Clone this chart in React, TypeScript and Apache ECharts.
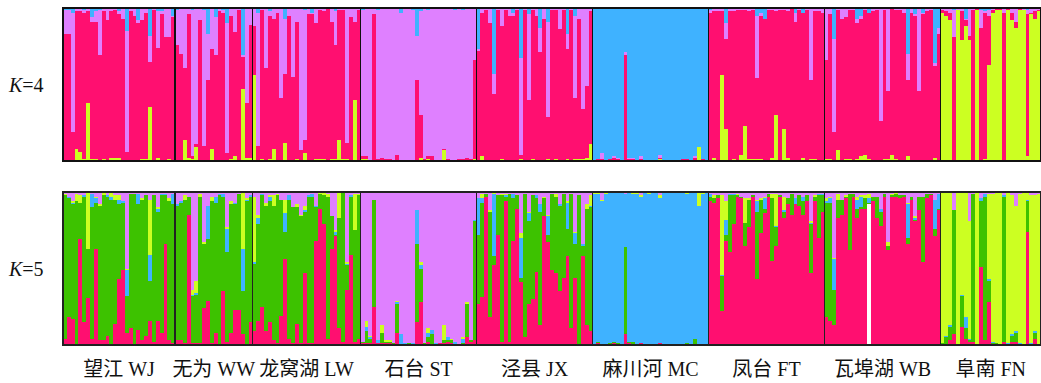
import React, { useEffect, useRef } from "react";
import * as echarts from "echarts";

// Population labels (left to right)
const POPULATIONS = ["望江 WJ", "无为 WW", "龙窝湖 LW", "石台 ST", "泾县 JX", "麻川河 MC", "凤台 FT", "瓦埠湖 WB", "阜南 FN"];

// K=4 cluster names (stacked bottom -> top) and colours
const K4_CLUSTERS = ["Cluster 1", "Cluster 2", "Cluster 3", "Cluster 4"];
const K4_COLORS = ["#CCFF22", "#FF0F70", "#DF80FF", "#3FB2FF"];
// K=5 cluster names (stacked bottom -> top), plus a missing-data column
const K5_CLUSTERS = ["Cluster A", "Cluster B", "Cluster C", "Cluster D", "Cluster E", "Missing"];
const K5_COLORS = ["#FF0F70", "#3DC200", "#3FB2FF", "#CCFF22", "#DF80FF", "#FFFFFF"];

// K=4 membership (%) per individual: [yellow, pink, violet, blue]
const k4WJ = [[0,83,16,1],[0,83,16,1],[0,19,78,3],[8,90,2,0],[6,92,2,0],[1,96,2,1],[38,60,2,0],[1,90,3,6],[1,90,7,2],[0,69,30,1],
[1,97,2,0],[0,92,8,0],[2,96,2,0],[2,97,1,0],[2,94,2,2],[0,93,7,0],[0,6,79,15],[0,98,2,0],[0,95,5,0],[0,90,2,8],
[1,91,8,0],[1,96,3,0],[35,30,17,18],[0,99,1,0],[2,72,24,2],[0,96,2,2],[0,81,19,0],[1,80,19,0],[0,94,1,5]];
const k4WW = [[0,76,23,1],[0,70,30,0],[14,47,39,0],[2,94,4,0],[1,2,96,1],[9,2,89,0],[0,92,8,0],[0,10,89,1],[0,53,30,17],[8,65,27,0],
[0,69,25,6],[0,98,2,0],[0,97,2,1],[0,5,85,10],[1,94,5,0],[3,81,16,0],[0,99,1,0],[47,21,1,31],[2,36,62,0],[2,87,11,0]];
const k4LW = [[56,32,12,0],[0,10,87,3],[1,98,1,0],[0,61,39,0],[1,94,3,2],[8,85,7,0],[0,97,3,0],[0,41,59,0],[12,45,36,7],[0,95,5,0],
[0,55,45,0],[1,90,9,0],[0,7,93,0],[5,9,85,1],[0,96,4,0],[0,96,1,3],[1,89,10,0],[1,98,1,0],[1,97,2,0],[0,100,0,0],
[1,90,9,0],[1,75,22,2],[14,85,1,0],[1,98,1,0],[1,11,88,0],[0,94,6,0],[40,51,9,0],[0,99,1,0]];
const k4ST = [[1,2,96,1],[1,2,97,0],[0,0,100,0],[0,96,4,0],[0,1,98,1],[0,2,98,0],[0,1,99,0],[0,1,99,0],[0,0,100,0],[0,4,96,0],
[0,0,97,3],[0,0,100,0],[0,0,100,0],[0,0,99,1],[0,53,29,18],[2,28,68,2],[0,1,99,0],[1,2,96,1],[0,3,97,0],[0,0,100,0],
[0,0,100,0],[7,1,92,0],[0,1,99,0],[0,0,100,0],[0,0,99,1],[0,1,99,0],[0,1,98,1],[0,2,98,0],[0,1,99,0],[1,65,34,0]];
const k4JX = [[0,72,1,27],[3,94,3,0],[0,99,1,0],[0,90,10,0],[0,44,13,43],[0,99,1,0],[1,87,12,0],[0,99,1,0],[0,95,5,0],[0,95,2,3],
[0,99,1,0],[1,3,63,33],[0,99,1,0],[0,40,56,4],[1,98,1,0],[0,95,5,0],[0,71,16,13],[0,93,7,0],[1,28,62,9],[0,99,1,0],
[1,98,1,0],[0,86,14,0],[0,99,1,0],[1,72,10,17],[0,99,1,0],[1,40,54,5],[1,92,7,0],[1,33,66,0],[2,47,51,0],[11,87,2,0]];
const k4MC = [[0,0,0,100],[0,1,0,99],[0,1,4,95],[0,0,0,100],[0,1,0,99],[0,2,1,97],[0,1,1,98],[0,0,0,100],[0,69,2,29],[0,1,1,98],
[0,1,1,98],[0,0,0,100],[0,1,2,97],[0,0,0,100],[0,0,0,100],[0,0,0,100],[0,0,0,100],[1,1,2,96],[0,0,0,100],[0,0,0,100],
[0,0,0,100],[0,0,0,100],[0,0,0,100],[0,1,0,99],[0,1,0,99],[0,0,0,100],[0,2,1,97],[9,0,0,91],[0,1,0,99],[0,0,0,100]];
const k4FT = [[0,97,2,1],[2,96,2,0],[0,98,2,0],[56,42,2,0],[21,59,10,10],[0,98,2,0],[1,97,2,0],[0,99,1,0],[4,95,1,0],[23,76,1,0],
[1,97,2,0],[1,98,1,0],[1,53,41,5],[1,94,2,3],[0,93,0,7],[0,99,1,0],[2,97,1,0],[30,68,2,0],[0,99,1,0],[21,78,1,0],
[2,96,2,0],[0,100,0,0],[0,91,6,3],[0,99,1,0],[2,95,0,3],[0,99,1,0],[1,52,47,0],[1,97,2,0],[0,98,2,0],[0,97,3,0]];
const k4WB = [[1,65,34,0],[1,95,4,0],[0,19,61,20],[7,92,1,0],[0,93,7,0],[1,93,6,0],[1,98,1,0],[0,99,1,0],[1,89,3,7],[3,90,2,5],
[4,95,1,0],[1,96,0,3],[0,98,2,0],[0,99,1,0],[0,26,74,0],[1,98,1,0],[1,45,54,0],[4,96,0,0],[1,98,1,0],[0,99,1,0],
[0,97,3,0],[3,50,17,30],[0,97,3,0],[0,95,1,4],[0,46,54,0],[0,96,1,3],[0,98,2,0],[0,99,1,0],[2,60,2,36],[0,83,4,13]];
const k4FN = [[97,2,1,0],[95,3,2,0],[92,5,3,0],[0,81,18,1],[99,0,1,0],[79,19,2,0],[88,4,1,7],[79,3,18,0],[0,99,1,0],[99,1,0,0],
[0,87,12,1],[1,96,1,2],[63,32,4,1],[97,2,1,0],[99,1,0,0],[99,1,0,0],[0,97,3,0],[99,1,0,0],[92,5,3,0],[87,4,9,0],
[99,1,0,0],[99,0,1,0],[3,93,3,1],[96,1,3,0],[93,5,2,0],[98,1,1,0]];

// K=5 membership (%) per individual: [pink, green, blue, yellow, violet, (missing)]
const k5WJ = [[4,94,0,1,1],[18,78,1,0,3],[17,75,1,1,6],[0,94,0,5,1],[69,24,0,5,2],[15,82,1,0,2],[31,32,0,37,0],[4,86,9,0,1],[63,30,3,1,3],[3,88,0,1,8],
[3,95,0,2,0],[6,91,1,0,2],[0,95,2,3,0],[14,81,0,3,2],[43,49,3,3,2],[49,44,1,0,6],[8,24,17,1,50],[11,88,0,0,1],[0,99,0,0,1],[10,82,7,0,1],
[3,92,0,1,4],[6,92,0,0,2],[16,26,17,36,5],[2,96,0,0,2],[16,71,2,1,10],[8,90,1,0,1],[66,32,1,0,1],[3,91,0,2,4],[1,91,7,0,1]];
const k5WW = [[3,88,1,0,8],[3,90,1,0,6],[1,94,0,3,2],[85,12,0,0,3],[1,31,1,3,64],[1,32,1,8,58],[1,96,0,2,1],[24,42,0,1,33],[29,40,22,0,9],[1,93,0,3,3],
[8,85,4,0,3],[0,98,1,0,1],[35,62,2,0,1],[2,59,15,1,23],[8,84,0,2,6],[23,69,1,0,7],[23,76,0,0,1],[7,28,28,37,0],[0,94,1,1,4],[15,82,1,0,2]];
const k5LW = [[9,44,1,43,3],[16,63,4,2,15],[25,74,1,0,1],[9,82,0,2,7],[15,79,3,1,2],[3,88,0,7,2],[1,97,0,1,1],[19,76,0,0,5],[56,18,12,9,5],[4,91,3,0,2],
[1,89,0,0,10],[14,76,0,2,8],[1,83,0,1,15],[47,40,1,3,9],[1,96,1,0,2],[1,96,2,0,1],[68,22,1,0,9],[89,10,0,1,0],[79,19,0,2,0],[4,93,0,2,1],
[63,21,0,0,16],[71,1,2,1,25],[11,72,0,17,0],[2,98,0,0,0],[36,16,1,1,46],[59,38,1,0,2],[2,73,0,24,1],[4,94,0,1,1]];
const k5ST = [[1,1,0,0,98],[1,8,3,4,84],[1,3,1,1,94],[25,70,0,0,5],[1,0,2,0,97],[1,7,0,5,87],[1,1,0,1,97],[1,1,0,1,97],[0,1,0,0,99],[8,19,1,1,71],
[0,0,7,0,93],[0,0,1,0,99],[0,1,0,0,99],[0,0,1,0,99],[15,51,22,0,12],[28,22,2,2,46],[0,1,0,0,99],[2,3,3,3,89],[0,7,3,0,90],[0,0,1,0,99],
[1,0,0,0,99],[1,2,0,10,87],[2,1,2,0,95],[1,2,0,1,96],[0,0,2,0,98],[0,0,0,0,100],[0,1,3,1,95],[5,22,0,1,72],[2,1,0,0,97],[3,78,1,0,18]];
const k5JX = [[27,45,24,0,4],[31,61,3,3,1],[97,2,0,0,1],[18,69,0,1,12],[52,6,41,1,0],[72,26,0,0,2],[2,96,0,1,1],[94,3,1,1,1],[2,97,0,0,1],[68,28,3,0,1],
[89,9,0,0,2],[41,3,26,3,27],[5,94,0,0,1],[27,54,5,1,13],[30,68,0,0,2],[48,48,2,0,2],[13,74,5,0,8],[84,12,0,1,3],[67,5,12,1,15],[49,50,0,0,1],
[47,50,0,2,1],[35,56,1,0,8],[44,55,0,0,1],[58,18,17,1,6],[11,88,0,0,1],[44,22,7,1,26],[0,98,0,0,2],[58,7,1,0,34],[13,76,0,3,8],[9,81,1,7,2]];
const k5MC = [[0,0,99,1,0],[1,1,97,1,0],[0,0,94,1,5],[0,0,99,1,0],[0,1,99,0,0],[1,1,98,0,0],[0,1,99,0,0],[0,0,100,0,0],[7,57,35,0,1],[1,1,98,0,0],
[0,2,97,1,0],[0,0,99,1,0],[1,0,96,1,2],[0,0,100,0,0],[0,0,99,1,0],[0,0,100,0,0],[0,0,100,0,0],[1,0,95,2,2],[0,0,100,0,0],[0,0,100,0,0],
[0,0,100,0,0],[0,0,100,0,0],[0,0,100,0,0],[0,0,100,0,0],[0,1,98,1,0],[0,0,100,0,0],[0,4,96,0,0],[0,0,91,9,0],[0,0,99,1,0],[0,0,100,0,0]];
const k5FT = [[94,3,2,0,1],[93,3,0,2,2],[96,2,0,0,2],[22,23,1,52,2],[68,4,10,12,6],[61,37,1,0,1],[79,19,1,0,1],[97,1,0,1,1],[96,1,0,0,3],[65,15,0,16,4],
[77,18,0,1,4],[97,1,0,0,2],[43,44,7,1,5],[73,22,0,1,4],[86,3,7,1,3],[97,2,0,0,1],[55,41,0,3,1],[65,12,1,21,1],[97,1,0,0,2],[83,4,1,9,3],
[92,4,0,0,4],[85,14,0,0,1],[92,0,4,0,4],[91,7,0,0,2],[85,9,3,0,3],[94,4,0,0,2],[47,32,1,1,19],[94,3,0,1,2],[70,28,1,0,1],[87,11,1,0,1]];
const k5WB = [[18,75,1,2,4],[16,77,3,1,3],[13,23,20,1,43],[83,12,0,4,1],[85,10,0,0,5],[96,1,0,1,2],[62,37,0,0,1],[97,2,0,0,1],[83,6,6,2,3],[89,1,7,1,2],
[89,7,0,2,2],[0,1,3,3,1,92],[94,3,0,0,3],[83,14,0,0,3],[78,9,2,0,11],[97,2,0,0,1],[62,3,0,2,33],[97,1,0,1,1],[97,2,0,1,0],[96,2,0,0,2],
[97,1,0,0,2],[66,4,22,1,7],[95,2,0,0,3],[81,1,1,1,16],[88,9,0,0,3],[54,43,0,0,3],[96,3,0,0,1],[98,1,0,0,1],[71,5,19,0,5],[88,1,10,0,1]];
const k5FN = [[0,1,0,99,0],[0,5,1,94,0],[3,9,1,87,0],[7,81,0,0,12],[0,0,0,100,0],[12,20,1,67,0],[4,7,7,82,0],[2,1,1,77,19],[2,97,0,0,1],[0,0,0,100,0],
[51,43,2,0,4],[3,94,2,0,1],[28,14,1,56,1],[0,1,1,97,1],[0,1,0,99,0],[0,0,0,100,0],[2,95,1,0,2],[0,0,1,99,0],[2,4,1,91,2],[2,6,1,82,9],
[0,0,1,98,1],[0,0,0,100,0],[74,20,1,5,0],[0,0,1,97,2],[4,4,1,89,2],[0,0,0,99,1]];

const K4_BY_POP = [k4WJ, k4WW, k4LW, k4ST, k4JX, k4MC, k4FT, k4WB, k4FN];
const K5_BY_POP = [k5WJ, k5WW, k5LW, k5ST, k5JX, k5MC, k5FT, k5WB, k5FN];
const K_LABELS = ["4", "5"];

function normalise(t: number[], n: number): number[] {
  const vals = [];
  for (let i = 0; i < n; i++) vals.push(t[i] ?? 0);
  const s = vals.reduce((a, b) => a + b, 0) || 1;
  return vals.map((v) => (v / s) * 100);
}

function buildOption() {
  const k4All = ([] as number[][]).concat(...K4_BY_POP).map((t) => normalise(t, 4));
  const k5All = ([] as number[][]).concat(...K5_BY_POP).map((t) => normalise(t, 6));
  const categories = k4All.map((_, i) => String(i + 1));

  const popRanges: number[][] = [];
  let start = 0;
  K4_BY_POP.forEach((p, i) => {
    popRanges.push([start, start + p.length - 1, 50, i]);
    start += p.length;
  });

  const n = categories.length;
  const bandW = 3.87;
  const gridW = n * bandW;
  const grids = [
    { left: 63, top: 8, width: gridW, height: 153 },
    { left: 63, top: 192, width: gridW, height: 153 },
  ];

  const barCommon = {
    type: "bar",
    barCategoryGap: "0%",
    barGap: "0%",
    silent: true,
  };

  const series: any[] = [];
  // K=5 missing column first (bottom), then clusters
  const k5Order = [5, 0, 1, 2, 3, 4];
  K4_CLUSTERS.forEach((name, c) => {
    series.push({
      ...barCommon,
      name: "K4 " + name,
      xAxisIndex: 0,
      yAxisIndex: 0,
      stack: "k4",
      itemStyle: { color: K4_COLORS[c] },
      data: k4All.map((t) => t[c]),
    });
  });
  k5Order.forEach((c) => {
    series.push({
      ...barCommon,
      name: "K5 " + K5_CLUSTERS[c],
      xAxisIndex: 1,
      yAxisIndex: 1,
      stack: "k5",
      itemStyle: { color: K5_COLORS[c] },
      data: k5All.map((t) => t[c]),
    });
  });

  [0, 1].forEach((g) => {
    series.push({
      type: "custom",
      xAxisIndex: g,
      yAxisIndex: g,
      z: 10,
      silent: true,
      clip: false,
      encode: { x: 0, y: 2 },
      data: popRanges,
      renderItem: (params: any, api: any) => {
        const s = api.value(0);
        const e = api.value(1);
        const idx = api.value(3);
        const bw = api.size([1, 0])[0];
        const p0 = api.coord([s, 100]);
        const p1 = api.coord([e, 0]);
        const x0 = p0[0] - bw / 2;
        const x1 = p1[0] + bw / 2;
        const children: any[] = [
          {
            type: "rect",
            shape: { x: x0, y: p0[1], width: x1 - x0, height: p1[1] - p0[1] },
            style: { fill: "none", stroke: g === 0 ? "#111" : "#222", lineWidth: 1.6 },
          },
        ];
        if (g === 1) {
          children.push({
            type: "text",
            style: {
              text: POPULATIONS[idx],
              x: (x0 + x1) / 2,
              y: p1[1] + 24,
              align: "center",
              verticalAlign: "middle",
              fontSize: 20,
              fontFamily: '"Liberation Serif", "Noto Sans CJK SC", serif',
              fill: "#111",
            },
          });
        }
        return { type: "group", children };
      },
    });
  });

  return {
    animation: false,
    backgroundColor: "#ffffff",
    grid: grids,
    xAxis: [0, 1].map((g) => ({
      type: "category",
      gridIndex: g,
      data: categories,
      show: false,
      boundaryGap: true,
    })),
    yAxis: [0, 1].map((g) => ({
      type: "value",
      gridIndex: g,
      min: 0,
      max: 100,
      show: false,
    })),
    graphic: K_LABELS.map((k, g) => ({
      type: "text",
      x: 9,
      y: grids[g].top + grids[g].height / 2,
      silent: true,
      style: {
        text: "{i|K}=" + k,
        rich: {
          i: { fontStyle: "italic", fontSize: 20, fontFamily: '"Liberation Serif", serif', fill: "#111" },
        },
        fontSize: 20,
        fontFamily: '"Liberation Serif", serif',
        verticalAlign: "middle",
        fill: "#111",
      },
    })),
    series,
  };
}

export default function App() {
  const ref = useRef<HTMLDivElement>(null);
  useEffect(() => {
    if (!ref.current) return;
    const chart = echarts.init(ref.current, undefined, { renderer: "svg" });
    chart.setOption(buildOption() as any);
    return () => chart.dispose();
  }, []);
  return (
    <div
      ref={ref}
      style={{
        position: "absolute",
        left: 0,
        top: 0,
        width: 1041,
        height: 383,
        background: "#fff",
        shapeRendering: "crispEdges",
      } as any}
    />
  );
}
